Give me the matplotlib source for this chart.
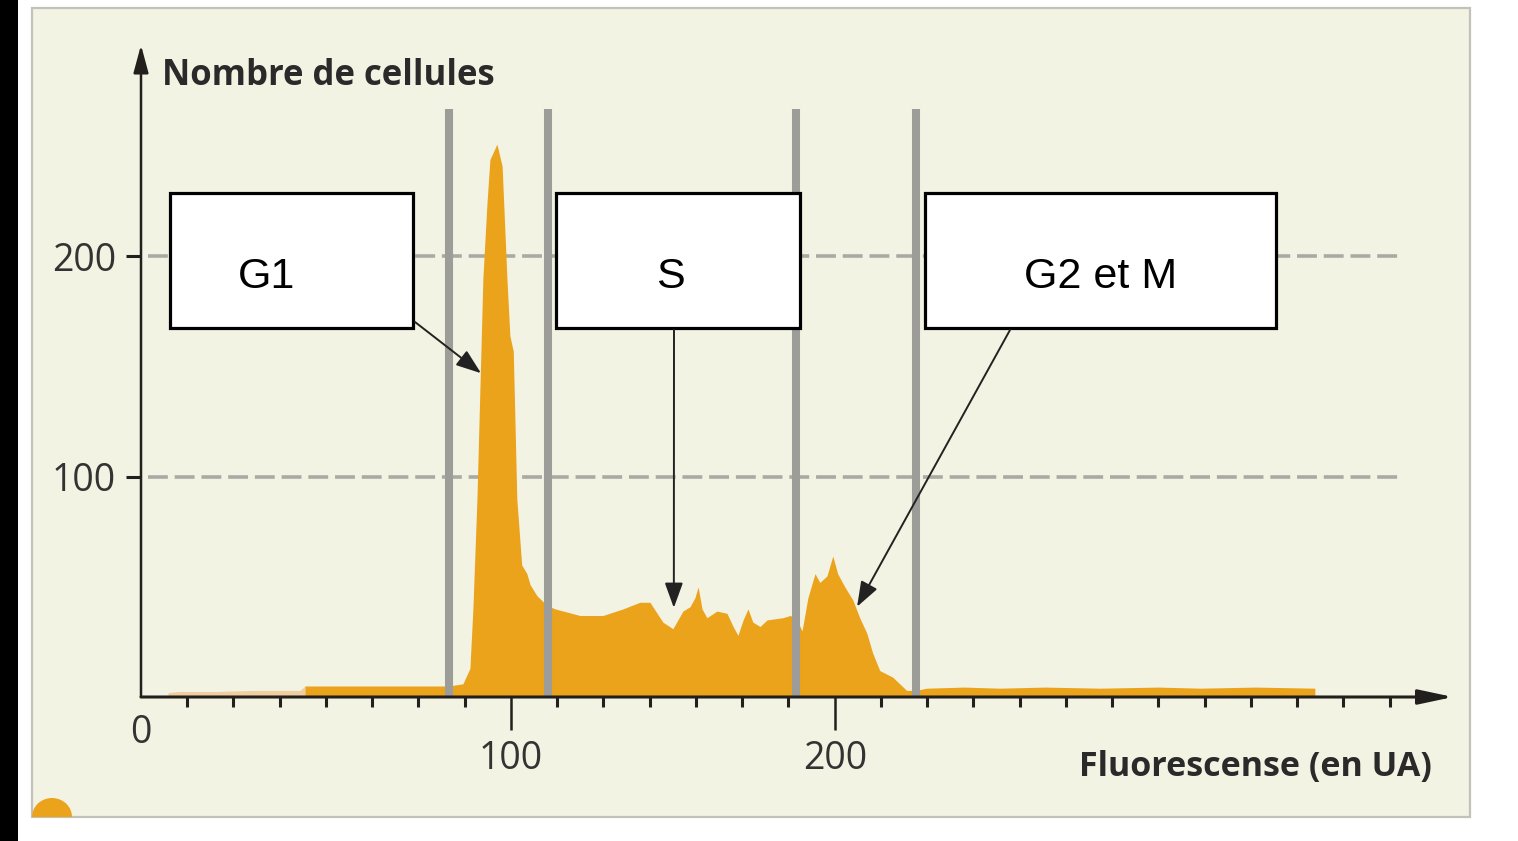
import numpy as np
import matplotlib
matplotlib.use('Agg')
import matplotlib.pyplot as plt
from matplotlib.patches import Rectangle, Ellipse

# ---------------- data ----------------
fluo = [7.3, 10, 20, 30, 43, 44.3, 60, 70, 83.2,
        87.0, 88.9, 89.7, 90.8, 91.6, 92.4, 93.5, 94.3, 96.2, 97.6, 98.9, 99.7,
        100.7, 101.8, 103.3, 104.9, 105.9, 108, 110.1, 112, 113.6, 121.3, 128.4,
        134.6, 139.8, 142.9, 146.9, 150, 153.1, 155.3, 156.8, 157.8, 159, 160.5,
        163.6, 166.7, 168.6, 170.1, 171.7, 173.2, 174.7, 176.9, 179.1, 184, 186.2,
        188, 189.9, 191.7, 193.9, 195.4, 197.6, 199.4, 200.9, 203.1, 205.6, 207.7,
        209.9, 211.7, 213.9, 217.9, 222.2, 225, 228.4, 240, 251, 265, 281.9, 300,
        312.8, 330, 348.3]
counts = [2, 2.5, 2.5, 3, 3, 5, 5, 5, 5,
          6, 13, 40, 90, 140, 190, 224, 244, 251, 241, 190, 164,
          157, 90, 60, 56, 51, 46, 43, 41, 40, 37, 37,
          40, 43, 43, 34, 31, 39, 41, 45, 50, 40, 36,
          39, 38, 32, 28, 35, 40, 34, 32, 35, 36, 37,
          36, 30, 45, 56, 52, 55, 64, 56, 50, 44, 36,
          29, 20, 12, 9, 3, 3, 4, 4.5, 4, 4.5, 4, 4.5,
          4, 4.5, 4]
faded_until = 44.3
phase_bounds = [83.2, 111.4, 188.0, 225.0]
phase_labels = ['G1', 'S', 'G2 et M']
phase_target_x = [91.9, 150.3, 206.9]
phase_target_y = [147, 40.5, 41]
y_ticks = [100, 200]
x_ticks = [100, 200]
x_title = 'Fluorescense (en UA)'
y_title = 'Nombre de cellules'

# ---------------- axis scale (drawing compresses above 100) ----------------
def fwd(x):
    x = np.asarray(x, float)
    return np.where(x <= 100, x, 100 + (x - 100) * 0.875)

def inv(u):
    u = np.asarray(u, float)
    return np.where(u <= 100, u, 100 + (u - 100) / 0.875)

W, H = 1518, 841
fig = plt.figure(figsize=(W / 100, H / 100), dpi=100)
fig.patch.set_facecolor('white')

fig.add_artist(Rectangle((0, 0), 18 / W, 1, transform=fig.transFigure,
                         facecolor='black', edgecolor='none', zorder=-10))
panel = Rectangle((32 / W, 24 / H), (1470 - 32) / W, (817 - 8) / H,
                  transform=fig.transFigure, facecolor='#f3f3e3',
                  edgecolor='#c2c2ba', linewidth=1.6, zorder=-9)
fig.add_artist(panel)
dome = Ellipse((52 / W, 24 / H), 40 / W, 38 / H, transform=fig.transFigure,
               facecolor='#eba31b', edgecolor='none', zorder=-8)
fig.add_artist(dome)
dome.set_clip_path(panel)

ax = fig.add_axes([141 / W, 144 / H, 1312 / W, 652 / H])
ax.patch.set_alpha(0)
ax.set_xscale('function', functions=(fwd, inv))
ax.set_xlim(0, float(inv(354.6)))
ax.set_ylim(0, 296)
for s in ax.spines.values():
    s.set_visible(False)

dark = '#231f1c'
fx = np.array(fluo)
fy = np.array(counts)
ax.fill_between(fx, fy, where=fx <= faded_until, color='#efcf9f', lw=0, zorder=1)
ax.fill_between(fx, fy, where=fx >= faded_until, color='#eba31b', lw=0, zorder=1)

for yv in y_ticks:
    ax.axhline(yv, xmin=7 / 1312, xmax=(1402 - 141) / 1312, color='#aaaaa4',
               lw=2.6, ls=(0, (5.5, 1.9)), zorder=0.5)

ax.vlines(phase_bounds, 0, 267, colors='#9c9c98', lw=5.8, zorder=2)

# axes with arrows
ax.annotate('', xy=(1, 0), xytext=(0, 0), xycoords='axes fraction',
            arrowprops=dict(arrowstyle='-|>,head_length=1.5,head_width=0.32',
                            mutation_scale=14, lw=2.2, color=dark,
                            shrinkA=0, shrinkB=0), annotation_clip=False, zorder=3)
ax.annotate('', xy=(0, 1), xytext=(0, 0), xycoords='axes fraction',
            arrowprops=dict(arrowstyle='-|>,head_length=1.3,head_width=0.35',
                            mutation_scale=13, lw=1.8, color=dark,
                            shrinkA=0, shrinkB=0), annotation_clip=False, zorder=3)

tick_font = ['Open Sans', 'DejaVu Sans']
ax.set_xticks(x_ticks)
ax.set_xticklabels([str(v) for v in x_ticks], family=tick_font, color='#333333')
ax.set_xticks(inv(12.5 * np.arange(1, 28)), minor=True)
ax.set_yticks(y_ticks)
ax.set_yticklabels([str(v) for v in y_ticks], family=tick_font, color='#333333')
ax.tick_params(axis='x', which='major', direction='out', length=24, width=1.8,
               color=dark, pad=7, labelsize=27)
ax.tick_params(axis='x', which='minor', direction='out', length=7, width=2.2,
               color=dark)
ax.tick_params(axis='y', which='major', direction='out', length=11, width=2.2,
               color=dark, pad=7, labelsize=27)
ax.annotate('0', xy=(0, 0), xycoords='data', xytext=(0, -26),
            textcoords='offset points', ha='center', va='center', fontsize=27,
            family=tick_font, color='#333333', annotation_clip=False)

ax.text((1432 - 141) / 1312, (697 - 767) / 652, x_title, transform=ax.transAxes,
        ha='right', va='center', fontsize=24.5, family=tick_font,
        fontweight='bold', color='#2a2a2a')
ax.text((162 - 141) / 1312, (697 - 76) / 652, y_title, transform=ax.transAxes,
        ha='left', va='center', fontsize=25, family=tick_font,
        fontweight='bold', color='#2a2a2a')

# phase boxes
boxes = [(170, 413), (556, 800), (925, 1276)]
text_cx = [267, 670, 1101]
for (l, r), lab, tcx in zip(boxes, phase_labels, text_cx):
    ax.add_patch(Rectangle(((l - 141) / 1312, (697 - 328) / 652), (r - l) / 1312,
                           135 / 652, transform=ax.transAxes, facecolor='white',
                           edgecolor='black', lw=2.3, zorder=5, clip_on=False))
    ax.text((tcx - 141) / 1312, (697 - 288) / 652, lab, transform=ax.transAxes,
            ha='center', va='baseline', fontsize=31, family='Liberation Sans',
            color='black', zorder=6)

starts = [(415, 322), (674, 330), (1010, 330)]
for (sx, sy), txv, tyv in zip(starts, phase_target_x, phase_target_y):
    ax.annotate('', xy=(txv, tyv), xycoords='data',
                xytext=((sx - 141) / 1312, (697 - sy) / 652),
                textcoords='axes fraction',
                arrowprops=dict(arrowstyle='-|>,head_length=1.1,head_width=0.4',
                                mutation_scale=14, lw=1.4, color='#222222',
                                shrinkA=0, shrinkB=0), zorder=6)

fig.savefig('out.png', dpi=100)
